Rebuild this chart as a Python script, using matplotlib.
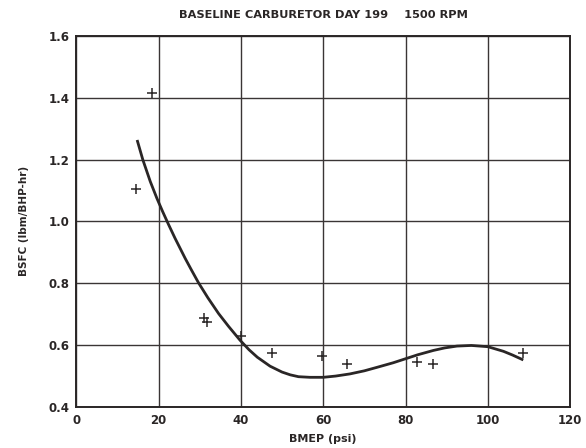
import matplotlib
matplotlib.use("Agg")
import matplotlib.pyplot as plt

# Measured data points (BMEP psi, BSFC lbm/BHP-hr)
bmep = [14.6, 18.4, 31.1, 31.8, 40.0, 47.6, 59.7, 65.7, 82.9, 86.7, 108.6]
bsfc = [1.105, 1.416, 0.687, 0.674, 0.630, 0.575, 0.566, 0.540, 0.547, 0.540, 0.574]

# Fitted curve
curve_x = [14.9, 16.2, 18.0, 19.6, 21.0, 22.4, 24.0, 26.5, 28.0, 29.7, 32.0, 34.6,
           37.0, 39.8, 42.0, 44.0, 47.1, 50.0, 52.0, 54.0, 56.8, 60.0, 63.0, 66.5,
           70.0, 73.0, 77.0, 80.0, 83.0, 86.8, 89.5, 92.5, 96.0, 100.0, 103.8, 106.0, 108.3]
curve_y = [1.259, 1.199, 1.129, 1.075, 1.032, 0.991, 0.946, 0.880, 0.843, 0.802, 0.753, 0.702,
           0.661, 0.616, 0.585, 0.561, 0.532, 0.513, 0.504, 0.498, 0.496, 0.496, 0.500, 0.507,
           0.517, 0.528, 0.543, 0.556, 0.569, 0.583, 0.591, 0.597, 0.599, 0.595, 0.580, 0.568, 0.554]

x_ticks = [0, 20, 40, 60, 80, 100, 120]
y_ticks = [0.4, 0.6, 0.8, 1.0, 1.2, 1.4, 1.6]

title = "BASELINE CARBURETOR DAY 199    1500 RPM"
xlabel = "BMEP (psi)"
ylabel = "BSFC (lbm/BHP-hr)"

ink = "#2a2626"
fig = plt.figure(figsize=(5.86, 4.48), dpi=100)
ax = fig.add_axes([0.130, 0.0915, 0.843, 0.8285])

ax.plot(curve_x, curve_y, color=ink, lw=2.0, zorder=3, solid_joinstyle="round")
ax.plot(bmep, bsfc, ls="none", marker="+", ms=7, mew=1.1, color=ink, zorder=4)

ax.set_xlim(0, 120)
ax.set_ylim(0.4, 1.6)
ax.set_xticks(x_ticks)
ax.set_yticks(y_ticks)
ax.set_xticklabels([str(v) for v in x_ticks], fontsize=8.5, fontweight="bold", color=ink)
ax.set_yticklabels([f"{v:.1f}" for v in y_ticks], fontsize=8.5, fontweight="bold", color=ink)
ax.tick_params(length=0, pad=5)
ax.grid(True, color="#3a3535", lw=1.0)
ax.set_axisbelow(True)
for s in ax.spines.values():
    s.set_color(ink)
    s.set_linewidth(1.4)

ax.set_title(title, fontsize=8.2, fontweight="bold", color=ink, pad=13)
ax.set_xlabel(xlabel, fontsize=8, fontweight="bold", color=ink, labelpad=5)
ax.set_ylabel(ylabel, fontsize=7.5, fontweight="bold", color=ink, labelpad=14)

fig.savefig("out.png", dpi=100)
